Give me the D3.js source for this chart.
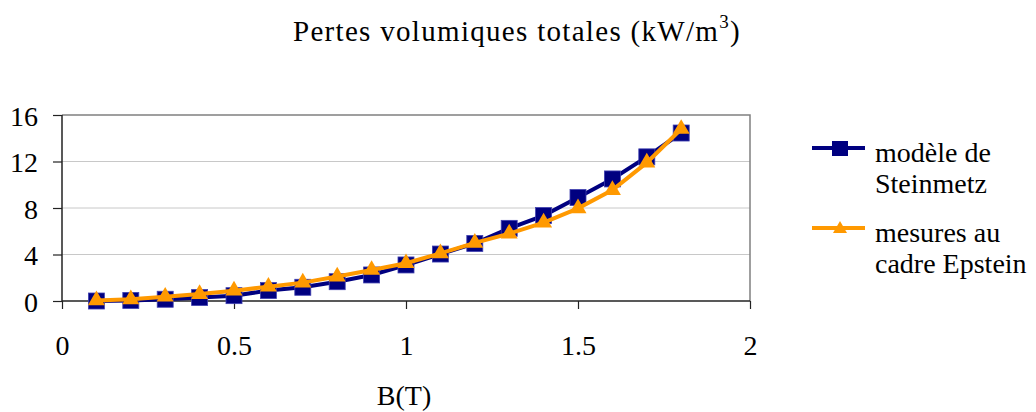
<!DOCTYPE html>
<html><head><meta charset="utf-8">
<script src="https://cdn.jsdelivr.net/npm/d3@7"></script>
<style>body{margin:0;background:#fff}svg{display:block}svg text{font-family:"Liberation Serif","Times New Roman",Times,"DejaVu Serif",serif !important;fill:#000}</style>
</head><body><svg id="c" width="1036" height="412"></svg>
<script>
const bValues = [0.1,0.2,0.3,0.4,0.5,0.6,0.7,0.8,0.9,1.0,1.1,1.2,1.3,1.4,1.5,1.6,1.7,1.8];
const steinmetz = [0.0,0.05,0.15,0.3,0.46,0.9,1.18,1.66,2.24,3.1,4.04,4.95,6.25,7.35,8.9,10.5,12.4,14.45];
const epstein   = [0.05,0.15,0.37,0.6,0.89,1.23,1.58,2.1,2.67,3.25,4.1,5.0,5.8,6.75,7.97,9.55,11.9,14.8];
const xTicks = [0,0.5,1,1.5,2];
const yTicks = [0,4,8,12,16];
const seriesNames = ["modèle de|Steinmetz","mesures au|cadre Epstein"];

const FONT = '"Liberation Serif","Times New Roman",Times,"DejaVu Serif",serif';
const FS = 28;
const svg = d3.select("#c");
const L=62,R=750,T=115,B=301;
const x = d3.scaleLinear().domain([0,2]).range([L,R]);
const y = d3.scaleLinear().domain([0,16]).range([B,T]);

// grid
svg.append("g").selectAll("line").data(yTicks.filter(d=>d>0&&d<16)).join("line")
  .attr("x1",L).attr("x2",R).attr("y1",d=>y(d)).attr("y2",d=>y(d))
  .attr("stroke","#c8c8c8").attr("stroke-width",1);
// frame top/right
svg.append("path").attr("d",`M${L},${y(16)}H${R}V${B}`).attr("fill","none").attr("stroke","#808080").attr("stroke-width",1.5);

// axes
const xa = svg.append("g").attr("transform",`translate(0,${B})`)
  .call(d3.axisBottom(x).tickValues(xTicks).tickSize(8).tickPadding(26).tickFormat(d=>String(d)));
const ya = svg.append("g").attr("transform",`translate(${L},0)`)
  .call(d3.axisLeft(y).tickValues(yTicks).tickSize(9).tickPadding(15).tickFormat(d=>String(d)));
[xa,ya].forEach(g=>{
  g.attr("font-family",FONT).attr("font-size",FS);
  g.select(".domain").attr("stroke","#222").attr("stroke-width",1.5);
  g.selectAll(".tick line").attr("stroke","#222").attr("stroke-width",1.2);
  g.selectAll("text").style("font-family",FONT).style("font-size",FS+"px").attr("fill","#000");
});
ya.selectAll("text").attr("dy","0.36em");
xa.select(".domain").attr("d",`M${L},0H${R}`);
ya.select(".domain").attr("d",`M0,${B}V${y(16)}`);

const line = d3.line().x((d,i)=>x(bValues[i])).y(d=>y(d));
const navy="#000080", orange="#FF9900";
svg.append("path").datum(steinmetz).attr("d",line).attr("fill","none").attr("stroke",navy).attr("stroke-width",4);
svg.append("g").selectAll("rect").data(steinmetz).join("rect")
  .attr("x",(d,i)=>x(bValues[i])-8).attr("y",d=>y(d)-8).attr("width",16).attr("height",16)
  .attr("fill",navy).attr("stroke","#4040b0").attr("stroke-width",0.8);
svg.append("path").datum(epstein).attr("d",line).attr("fill","none").attr("stroke",orange).attr("stroke-width",4);
const tri = d3.symbol().type(d3.symbolTriangle).size(125);
svg.append("g").selectAll("path").data(epstein).join("path")
  .attr("transform",(d,i)=>`translate(${x(bValues[i])},${y(d)})`).attr("d",tri).attr("fill",orange);

// title
const t = svg.append("text").attr("x",293).attr("y",41).style("font-family",FONT).style("font-size","29px");
const t1 = t.append("tspan").text("Pertes volumiques totales (kW/m");
t.append("tspan").attr("dy",-13).style("font-size","19px").text("3");
t.append("tspan").attr("dy",13).text(")");
// spread title to the reference width
const natural = t.node().getComputedTextLength();
const nChars = "Pertes volumiques totales (kW/m3)".length;
t.style("letter-spacing", ((448 - natural) / nChars) + "px");

// x label
svg.append("text").attr("x",404).attr("y",405).attr("text-anchor","middle").style("font-family",FONT).style("font-size",FS+"px").text("B(T)");

// legend
const leg = [{c:navy,sym:"sq",y:148,ty:162},{c:orange,sym:"tri",y:228,ty:242}];
leg.forEach((l,i)=>{
  const g = svg.append("g");
  g.append("line").attr("x1",812).attr("x2",865).attr("y1",l.y).attr("y2",l.y).attr("stroke",l.c).attr("stroke-width",4);
  if(l.sym==="sq") g.append("rect").attr("x",832).attr("y",l.y-7).attr("width",16).attr("height",15).attr("fill",l.c);
  else g.append("path").attr("transform",`translate(840,${l.y+1})`).attr("d",d3.symbol().type(d3.symbolTriangle).size(85)).attr("fill",l.c);
  const parts = seriesNames[i].split("|");
  parts.forEach((p,j)=>g.append("text").attr("x",875).attr("y",l.ty+j*31).style("font-family",FONT).style("font-size",FS+"px").text(p));
});
</script></body></html>
